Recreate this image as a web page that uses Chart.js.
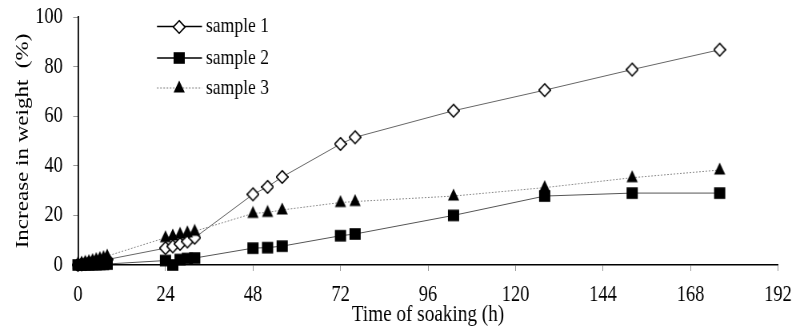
<!DOCTYPE html>
<html>
<head>
<meta charset="utf-8">
<script src="https://cdn.jsdelivr.net/npm/chart.js@4/dist/chart.umd.min.js"></script>
<style>
  html, body { margin: 0; background: #fff; overflow: hidden; }
  /* the original figure is a horizontally squeezed Excel plot, so the chart is
     drawn 25% wider and squeezed back to 795px */
  #wrap { width: 994px; height: 329px; transform: scaleX(0.8); transform-origin: 0 0; }
</style>
</head>
<body>
<div id="wrap"><canvas id="myChart" width="994" height="329"></canvas></div>
<script>
'use strict';

// soaking time in hours (x values)
var hours = [0, 1, 2, 3, 4, 5, 6, 7, 8, 24, 26, 28, 30, 32, 48, 52, 56, 72, 76, 103, 128, 152, 176];

// increase in weight (%)
var sample1 = [0, 0.3, 0.6, 0.8, 1, 1.3, 1.5, 1.8, 2.2, 6.8, 7.5, 8.5, 9.5, 11, 28.5, 31.5, 35.5, 48.8, 51.5, 62.2, 70.5, 78.8, 86.8];
var sample2 = [0, 0, 0.1, 0.1, 0.2, 0.2, 0.3, 0.3, 0.4, 1.8, 0, 2.2, 2.6, 2.8, 6.8, 7, 7.6, 11.8, 12.5, 20, 27.8, 29, 29];
var sample3 = [0.5, 0.8, 1.1, 1.4, 1.8, 2.2, 2.6, 3, 3.6, 11, 11.7, 12.4, 13, 13.6, 20.8, 21.2, 22.2, 25.2, 25.6, 27.8, 31.2, 35.2, 38.3];

var xTicks = [0, 24, 48, 72, 96, 120, 144, 168, 192];
var yTicks = [0, 20, 40, 60, 80, 100];

var seriesNames = ['sample 1', 'sample 2', 'sample 3'];

var SQ = 0.8; // horizontal squeeze of the page

function toPoints(vals) {
  var out = [];
  for (var i = 0; i < vals.length; i++) {
    out.push({x: hours[i], y: vals[i]});
  }
  return out;
}

// marker images, pre-stretched so they come out square after the squeeze
function makeMarker(kind) {
  var w = 16, h = 16;
  var cv = document.createElement('canvas');
  cv.width = w;
  cv.height = h;
  var c = cv.getContext('2d');
  var cx = w / 2, cy = h / 2;
  c.beginPath();
  if (kind == 'diamond') {
    var rx = 5.8 / SQ, ry = 6.3;
    c.moveTo(cx, cy - ry);
    c.lineTo(cx + rx, cy);
    c.lineTo(cx, cy + ry);
    c.lineTo(cx - rx, cy);
    c.closePath();
    c.fillStyle = '#fff';
    c.fill();
    c.lineWidth = 1.6;
    c.strokeStyle = '#000';
    c.stroke();
  } else if (kind == 'square') {
    var sx = 5.6 / SQ, sy = 5.8;
    c.rect(cx - sx, cy - sy, 2 * sx, 2 * sy);
    c.fillStyle = '#000';
    c.fill();
  } else {
    var tx = 5.6 / SQ;
    c.moveTo(cx, cy - 7.5);
    c.lineTo(cx + tx, cy + 4.5);
    c.lineTo(cx - tx, cy + 4.5);
    c.closePath();
    c.fillStyle = '#000';
    c.fill();
  }
  return cv;
}

var serif = '"Liberation Serif", "Times New Roman", serif';

// legend drawn by hand so each entry shows line + marker
var lineLegend = {
  id: 'lineLegend',
  afterDraw: function(chart) {
    var c = chart.ctx;
    var x0 = 157 / SQ, x1 = 202 / SQ, rowY = [26.5, 58, 88];
    c.save();
    chart.data.datasets.forEach(function(ds, i) {
      var y = rowY[i];
      c.beginPath();
      c.lineWidth = 1.3;
      c.strokeStyle = ds.legendLine;
      c.setLineDash(ds.borderDash || []);
      c.moveTo(x0, y);
      c.lineTo(x1, y);
      c.stroke();
      c.setLineDash([]);
      var img = ds.pointStyle;
      c.drawImage(img, Math.round((x0 + x1) / 2 - img.width / 2), Math.round(y - img.height / 2));
      c.fillStyle = '#000';
      c.font = '22px ' + serif;
      c.textBaseline = 'middle';
      c.fillText(ds.label, 206 / SQ, y);
    });
    c.restore();
  }
};

var ctx = document.getElementById('myChart');
new Chart(ctx, {
  type: 'line',
  data: {
    datasets: [
      {
        label: seriesNames[0],
        data: toPoints(sample1),
        order: 3,
        clip: false,
        borderColor: '#666',
        legendLine: '#000',
        borderWidth: 1,
        pointStyle: makeMarker('diamond'),
        pointRadius: 6
      },
      {
        label: seriesNames[1],
        data: toPoints(sample2),
        order: 1,
        clip: false,
        borderColor: '#555',
        legendLine: '#000',
        borderWidth: 1,
        pointStyle: makeMarker('square'),
        pointRadius: 6
      },
      {
        label: seriesNames[2],
        data: toPoints(sample3),
        order: 2,
        clip: false,
        borderColor: '#888',
        legendLine: '#999',
        borderWidth: 1,
        borderDash: [2, 2],
        pointStyle: makeMarker('triangle'),
        pointRadius: 6
      }
    ]
  },
  options: {
    responsive: false,
    animation: false,
    layout: { padding: { top: 17, right: 994 - 778 / SQ, left: 0, bottom: 0 } },
    plugins: {
      legend: { display: false },
      tooltip: { enabled: false }
    },
    scales: {
      x: {
        type: 'linear',
        min: 0,
        max: 192,
        afterBuildTicks: function(axis) {
          axis.ticks = xTicks.map(function(v) { return {value: v}; });
        },
        afterFit: function(axis) {
          axis.height = 329 - 265;
          axis.paddingLeft = 0;
          axis.paddingRight = 0;
        },
        border: { color: '#000', width: 1.5 },
        grid: { drawOnChartArea: false, tickLength: 6, color: '#999' },
        ticks: { color: '#000', padding: 10, maxRotation: 0, font: { family: serif, size: 23 } },
        title: { display: true, text: 'Time of soaking (h)', color: '#000', padding: { bottom: 0, top: 0 }, font: { family: serif, size: 24 } }
      },
      y: {
        min: 0,
        max: 100,
        afterBuildTicks: function(axis) {
          axis.ticks = yTicks.map(function(v) { return {value: v}; });
        },
        afterFit: function(axis) {
          axis.width = 78 / SQ;
          axis.paddingTop = 0;
          axis.paddingBottom = 0;
        },
        border: { color: '#000', width: 1.8 },
        grid: { drawOnChartArea: false, tickLength: 6, color: '#999' },
        ticks: { color: '#000', padding: 13, font: { family: serif, size: 23 } },
        title: { display: true, text: 'Increase in weight  (%)', color: '#000', padding: { top: 15, bottom: 0 }, font: { family: serif, size: 23 } }
      }
    }
  },
  plugins: [lineLegend]
});
</script>
</body>
</html>
